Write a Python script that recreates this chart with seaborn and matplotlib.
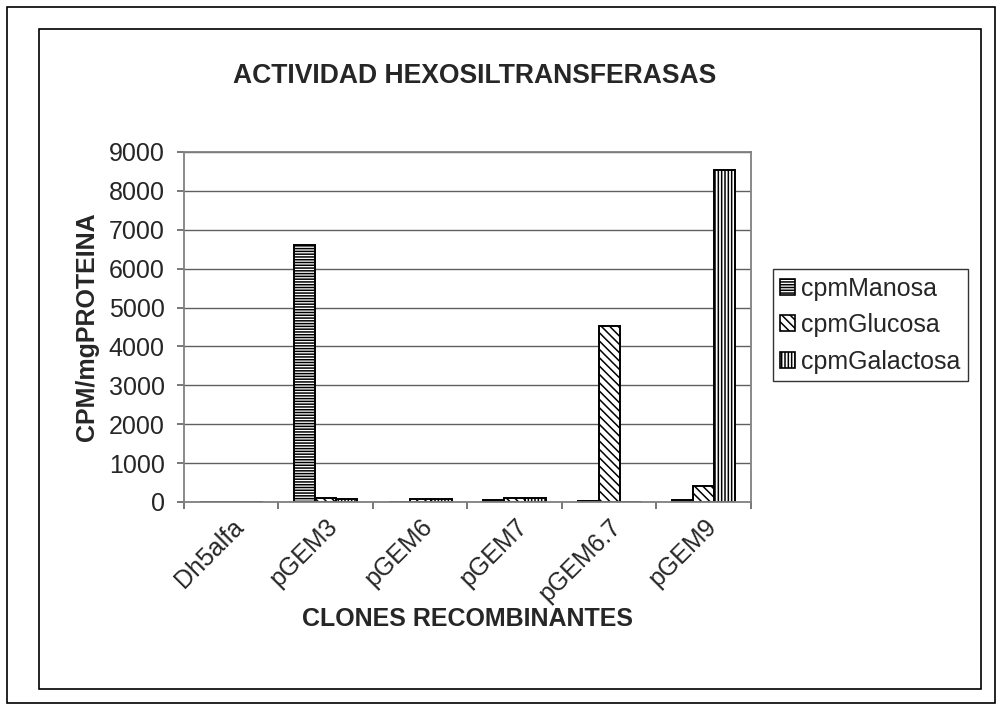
import matplotlib
matplotlib.use("Agg")
import matplotlib.pyplot as plt
from matplotlib.patches import Rectangle, Patch
import seaborn as sns
import pandas as pd

# Values per clone (CPM / mg protein)
clones = ["Dh5alfa", "pGEM3", "pGEM6", "pGEM7", "pGEM6.7", "pGEM9"]
manosa = [0, 6600, 0, 50, 30, 50]
glucosa = [0, 110, 70, 90, 4530, 420]
galactosa = [0, 70, 70, 90, 0, 8540]
series = ["cpmManosa", "cpmGlucosa", "cpmGalactosa"]
hatches = ["------", "\\\\\\\\", "|||||"]

rows = []
for name, vals in zip(series, [manosa, glucosa, galactosa]):
    for c, v in zip(clones, vals):
        rows.append({"clone": c, "serie": name, "valor": v})
df = pd.DataFrame(rows)

sns.set_theme(style="white")
plt.rcParams["font.family"] = ["Liberation Sans", "DejaVu Sans"]
plt.rcParams["hatch.linewidth"] = 1.1

fig = plt.figure(figsize=(10.02, 7.10), dpi=100)
ax = fig.add_axes([0.1836, 0.293, 0.5659, 0.493])

sns.barplot(data=df, x="clone", y="valor", hue="serie", order=clones,
            hue_order=series, width=0.667, ax=ax, legend=False,
            edgecolor="black", linewidth=1.4, saturation=1)

for cont, h in zip(ax.containers, hatches):
    for bar in cont:
        bar.set_facecolor("white")
        bar.set_edgecolor("black")
        bar.set_hatch(h)

ax.set_ylim(0, 9000)
ax.set_xlim(-0.5, len(clones) - 0.5)
ax.set_yticks(range(0, 9001, 1000))
ax.yaxis.grid(True, color="#606060", linewidth=1.0)
ax.set_axisbelow(True)

for s in ax.spines.values():
    s.set_color("#808080")
    s.set_linewidth(1.3)
    s.set_visible(True)

ax.tick_params(axis="y", direction="out", length=5, width=1.2, color="#606060",
               labelsize=18, pad=9, left=True)
ax.set_xticks(range(len(clones)))
ax.set_xticklabels(clones, rotation=45, ha="right", rotation_mode="anchor",
                   fontsize=18)
ax.tick_params(axis="x", which="major", length=0, pad=9)
ax.set_xticks([i + 0.5 for i in range(-1, len(clones))], minor=True)
ax.tick_params(axis="x", which="minor", direction="out", length=5, width=1.2,
               color="#606060", bottom=True)

ax.set_xlabel("CLONES RECOMBINANTES", fontsize=18, fontweight="bold", labelpad=1)
ax.set_ylabel("CPM/mgPROTEINA", fontsize=18, fontweight="bold", labelpad=7)
fig.text(0.474, 0.893, "ACTIVIDAD HEXOSILTRANSFERASAS", ha="center",
         va="center", fontsize=19.1, fontweight="bold")

handles = [Patch(facecolor="white", edgecolor="black", hatch=h, linewidth=1.2)
           for h in hatches]
leg = fig.legend(handles, series, loc="upper left",
                 bbox_to_anchor=(0.771, 0.621), fontsize=18, frameon=True,
                 fancybox=False, handlelength=0.6, handleheight=0.6,
                 handletextpad=0.25, borderpad=0.3, labelspacing=0.5,
                 borderaxespad=0)
leg.get_frame().set_edgecolor("black")
leg.get_frame().set_linewidth(1.0)

# Chart area and page borders
fig.patches.append(Rectangle((39 / 1002, 1 - 689 / 710), (981 - 39) / 1002,
                             (689 - 29) / 710, transform=fig.transFigure,
                             fill=False, edgecolor="black", linewidth=1.2))
fig.patches.append(Rectangle((7 / 1002, 1 - 703 / 710), (995 - 7) / 1002,
                             (703 - 7) / 710, transform=fig.transFigure,
                             fill=False, edgecolor="black", linewidth=1.2))

fig.savefig("out.png", dpi=100)
